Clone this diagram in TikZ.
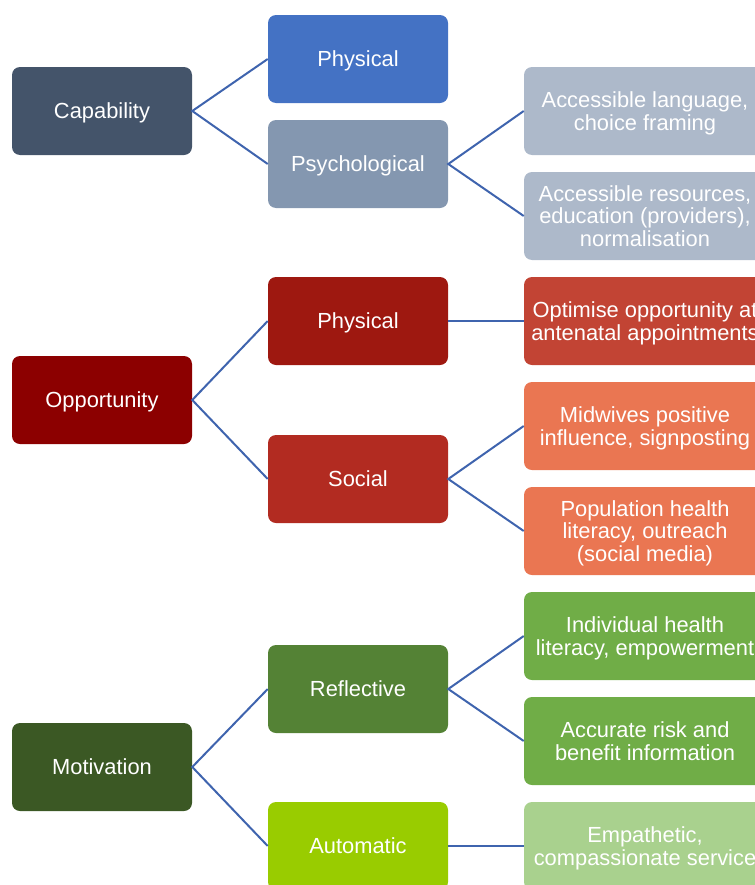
\documentclass[tikz,border=0pt]{standalone}
\usepackage{fontspec}
\setmainfont{Liberation Sans}
\definecolor{capdark}{HTML}{44546A}
\definecolor{capblue}{HTML}{4472C4}
\definecolor{capgrey}{HTML}{8497B0}
\definecolor{caplight}{HTML}{ADB9CA}
\definecolor{oppdark}{HTML}{8C0000}
\definecolor{opphys}{HTML}{9E1810}
\definecolor{oppsoc}{HTML}{B22B21}
\definecolor{oppleaf}{HTML}{C24434}
\definecolor{oppsalmon}{HTML}{EA7652}
\definecolor{motdark}{HTML}{3B5824}
\definecolor{motrefl}{HTML}{548235}
\definecolor{motauto}{HTML}{99CC00}
\definecolor{motleaf}{HTML}{70AD47}
\definecolor{motpale}{HTML}{A9D18E}
\definecolor{linkblue}{HTML}{3F64AE}
\tikzset{
  box/.style={rectangle, rounded corners=6pt, text=white, align=center, inner sep=0pt,
    text depth=0pt, font=\fontsize{16.4pt}{16.9pt}\selectfont},
  mainbox/.style={box, minimum width=135pt, minimum height=66pt},
  leafbox/.style={box, minimum width=181.5pt, minimum height=66pt},
  link/.style={draw=linkblue, line width=1.5pt}
}
\begin{document}
\begin{tikzpicture}[x=0.75pt, y=-0.75pt]
    \useasboundingbox (0,0) rectangle (755,885);
    \clip (0,0) rectangle (755,885);

    \draw (102,111) node[mainbox, fill=capdark](cap){Capability}
       (358,59) node[mainbox, fill=capblue](capphys){Physical}
       (358,164) node[mainbox, fill=capgrey](cappsy){Psychological}
       (645,111) node[leafbox, fill=caplight](lang){Accessible language,\\choice framing}
       (645,216) node[leafbox, fill=caplight](res){Accessible resources,\\education (providers),\\normalisation};

    \draw (102,400) node[mainbox, fill=oppdark](opp){Opportunity}
       (358,321) node[mainbox, fill=opphys](opphys){Physical}
       (358,479) node[mainbox, fill=oppsoc](oppsoc){Social}
       (645,321) node[leafbox, fill=oppleaf](optim){Optimise opportunity at\\antenatal appointments}
       (645,426) node[leafbox, fill=oppsalmon](midw){Midwives positive\\influence, signposting}
       (645,531) node[leafbox, fill=oppsalmon](popul){Population health\\literacy, outreach\\(social media)};

    \draw (102,767) node[mainbox, fill=motdark](mot){Motivation}
       (358,689) node[mainbox, fill=motrefl](motrefl){Reflective}
       (358,846) node[mainbox, fill=motauto](motauto){Automatic}
       (645,636) node[leafbox, fill=motleaf](indiv){Individual health\\literacy, empowerment}
       (645,741) node[leafbox, fill=motleaf](risk){Accurate risk and\\benefit information}
       (645,846) node[leafbox, fill=motpale](empat){Empathetic,\\compassionate service};

    \draw[link] (capphys.west) -- (cap.east) -- (cappsy.west);
    \draw[link] (lang.west) -- (cappsy.east) -- (res.west);
    \draw[link] (opphys.west) -- (opp.east) -- (oppsoc.west);
    \draw[link] (opphys.east) -- (optim.west);
    \draw[link] (midw.west) -- (oppsoc.east) -- (popul.west);
    \draw[link] (motrefl.west) -- (mot.east) -- (motauto.west);
    \draw[link] (indiv.west) -- (motrefl.east) -- (risk.west);
    \draw[link] (motauto.east) -- (empat.west);
\end{tikzpicture}
\end{document}
